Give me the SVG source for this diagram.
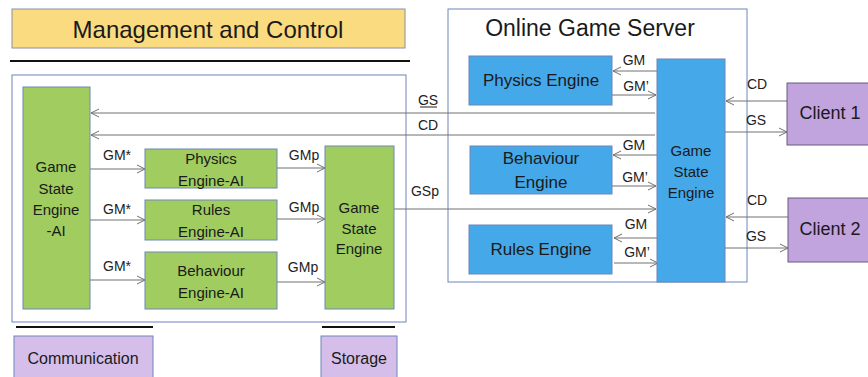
<svg xmlns="http://www.w3.org/2000/svg" width="868" height="377" viewBox="0 0 868 377">
<defs>
<marker id="arr" markerUnits="userSpaceOnUse" markerWidth="10" markerHeight="10" refX="9" refY="5" orient="auto">
<path d="M1,1 L9,5 L1,9" fill="none" stroke="#707070" stroke-width="1"/>
</marker>
<style>
text{font-family:"Liberation Sans",Arial,sans-serif;fill:#1a1a1a;text-anchor:middle;dominant-baseline:central}
.lbl{font-size:14px;fill:#222}
.node{font-size:15px}
.green{fill:#a0cc60;stroke:#6f86b8;stroke-width:1}
.blue{fill:#45a8e8;stroke:#6f86b8;stroke-width:1}
.purple{fill:#c1a3dd;stroke:#6a5a80;stroke-width:1}
.lpurple{fill:#d5bee9;stroke:#6f86b8;stroke-width:1}
.frame{fill:none;stroke:#6f86b8;stroke-width:1}
.con{fill:none;stroke:#707070;stroke-width:1;marker-end:url(#arr)}
.rule{stroke:#111;stroke-width:2}
</style>
</defs>
<rect width="868" height="377" fill="#ffffff"/>

<g id="management">
<rect x="12" y="9" width="393" height="39" fill="#fadb80" stroke="#8a8fa8" stroke-width="1"/>
<text x="208" y="29" style="font-size:24px">Management and Control</text>
</g>
<line class="rule" x1="10" y1="61" x2="410" y2="61"/>

<rect id="ai-frame" class="frame" x="12" y="75" width="394" height="247"/>
<g id="server-frame">
<rect class="frame" x="448" y="9" width="299" height="273"/>
<text x="590" y="28" style="font-size:23px">Online Game Server</text>
</g>

<g id="connectors">
<line class="con" x1="655" y1="113" x2="91" y2="113"/>
<line class="con" x1="655" y1="135" x2="91" y2="135"/>
<line class="con" x1="90" y1="169" x2="145" y2="169"/>
<line class="con" x1="90" y1="220" x2="145" y2="220"/>
<line class="con" x1="90" y1="280" x2="145" y2="280"/>
<line class="con" x1="277" y1="168" x2="325" y2="168"/>
<line class="con" x1="277" y1="219" x2="325" y2="219"/>
<line class="con" x1="277" y1="282" x2="325" y2="282"/>
<line class="con" x1="394" y1="209" x2="656" y2="209"/>
<line class="con" x1="657" y1="71" x2="613" y2="71"/>
<line class="con" x1="612" y1="95" x2="656" y2="95"/>
<line class="con" x1="657" y1="155" x2="613" y2="155"/>
<line class="con" x1="612" y1="186" x2="656" y2="186"/>
<line class="con" x1="657" y1="238" x2="614" y2="238"/>
<line class="con" x1="614" y1="263" x2="658" y2="263"/>
<line class="con" x1="787" y1="101" x2="726" y2="101"/>
<line class="con" x1="725" y1="132" x2="787" y2="132"/>
<line class="con" x1="788" y1="217" x2="726" y2="217"/>
<line class="con" x1="725" y1="248" x2="788" y2="248"/>
<text class="lbl" x="428" y="100">GS</text>
<line x1="420" y1="107" x2="437" y2="107" stroke="#222" stroke-width="1"/>
<text class="lbl" x="428" y="125">CD</text>
<text class="lbl" x="425" y="191">GSp</text>
<text class="lbl" x="117" y="155">GM*</text>
<text class="lbl" x="117" y="209">GM*</text>
<text class="lbl" x="117" y="266">GM*</text>
<text class="lbl" x="304" y="155">GMp</text>
<text class="lbl" x="304" y="207">GMp</text>
<text class="lbl" x="303" y="267">GMp</text>
<text class="lbl" x="634" y="60">GM</text>
<text class="lbl" x="636" y="86">GM’</text>
<text class="lbl" x="634" y="145">GM</text>
<text class="lbl" x="635" y="177">GM’</text>
<text class="lbl" x="636" y="224">GM</text>
<text class="lbl" x="637" y="252">GM’</text>
<text class="lbl" x="757" y="84">CD</text>
<text class="lbl" x="756" y="120">GS</text>
<text class="lbl" x="757" y="200">CD</text>
<text class="lbl" x="756" y="236">GS</text>
</g>

<g id="gse-ai">
<rect class="green" x="23" y="87" width="67" height="222"/>
<text class="node" x="56" y="166">Game</text>
<text class="node" x="56" y="188">State</text>
<text class="node" x="56" y="209">Engine</text>
<text class="node" x="56" y="230">-AI</text>
</g>
<g id="physics-ai">
<rect class="green" x="145" y="149" width="132" height="39"/>
<text class="node" x="211" y="158">Physics</text>
<text class="node" x="211" y="180">Engine-AI</text>
</g>
<g id="rules-ai">
<rect class="green" x="145" y="200" width="132" height="40"/>
<text class="node" x="211" y="209">Rules</text>
<text class="node" x="211" y="231">Engine-AI</text>
</g>
<g id="behaviour-ai">
<rect class="green" x="145" y="252" width="132" height="57"/>
<text class="node" x="211" y="270">Behaviour</text>
<text class="node" x="211" y="292">Engine-AI</text>
</g>
<g id="gse-local">
<rect class="green" x="325" y="146" width="69" height="163"/>
<text class="node" x="359" y="207">Game</text>
<text class="node" x="359" y="228">State</text>
<text class="node" x="359" y="248">Engine</text>
</g>

<g id="physics-engine">
<rect class="blue" x="469" y="56" width="143" height="49"/>
<text x="541" y="80" style="font-size:17px">Physics Engine</text>
</g>
<g id="behaviour-engine">
<rect class="blue" x="470" y="146" width="142" height="48"/>
<text x="541" y="158" style="font-size:17px">Behaviour</text>
<text x="541" y="182" style="font-size:17px">Engine</text>
</g>
<g id="rules-engine">
<rect class="blue" x="469" y="225" width="143" height="49"/>
<text x="541" y="249" style="font-size:17px">Rules Engine</text>
</g>
<g id="gse-server">
<rect class="blue" x="657" y="59" width="68" height="223"/>
<text class="node" x="691" y="150">Game</text>
<text class="node" x="691" y="171">State</text>
<text class="node" x="691" y="192">Engine</text>
</g>

<g id="client1">
<rect class="purple" x="787" y="83" width="90" height="62"/>
<text x="830" y="113" style="font-size:18px">Client 1</text>
</g>
<g id="client2">
<rect class="purple" x="788" y="198" width="90" height="64"/>
<text x="830" y="229" style="font-size:18px">Client 2</text>
</g>

<line class="rule" x1="16" y1="327" x2="153" y2="327"/>
<line class="rule" x1="322" y1="327" x2="395" y2="327"/>
<g id="communication">
<rect class="lpurple" x="14" y="336" width="139" height="50"/>
<text x="83" y="358" style="font-size:16px">Communication</text>
</g>
<g id="storage">
<rect class="lpurple" x="321" y="336" width="76" height="50"/>
<text x="359" y="358" style="font-size:16px">Storage</text>
</g>
</svg>
